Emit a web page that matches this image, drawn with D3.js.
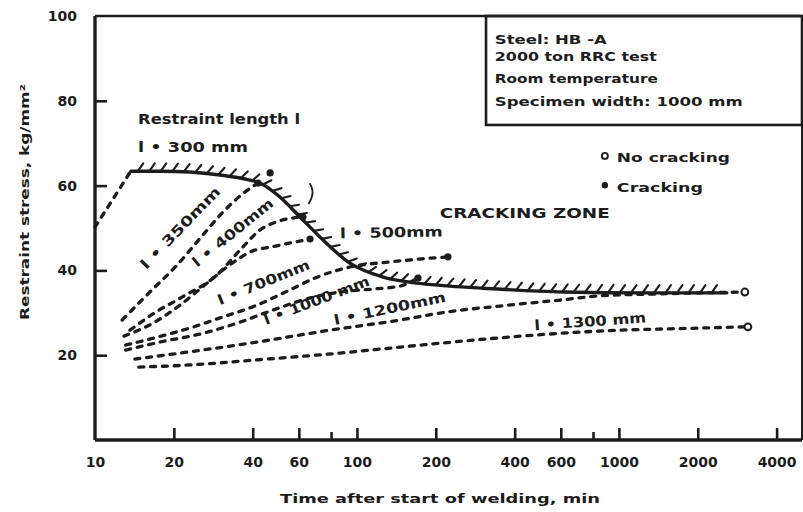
<!DOCTYPE html>
<html>
<head>
<meta charset="utf-8">
<script src="https://cdn.jsdelivr.net/npm/d3@7"></script>
<style>
  body { margin: 0; background: #fff; }
  svg text { font-family: "DejaVu Sans", "Liberation Sans", sans-serif; font-weight: bold; fill: #1c1c1c; }
</style>
</head>
<body>
<svg id="chart" width="803" height="512"></svg>
<script>
// ---- axis ticks ----
const timeTicks = [10, 20, 40, 60, 100, 200, 400, 600, 1000, 2000, 4000];
const timeMinorTicks = [80, 800];
const stressTicks = [20, 40, 60, 80, 100];

// ---- critical (cracking) boundary, time in min / stress in kg/mm2 ----
const critTime   = [13.7, 17.7, 23.0, 30.0, 39.0, 42.6, 50.8, 60.6, 72.2, 94.0, 126, 169, 226, 303, 611, 1313, 2584];
const critStress = [63.4, 63.4, 63.2, 62.5, 61.3, 60.6, 57.3, 52.6, 47.9, 41.7, 38.4, 37.0, 36.3, 35.8, 34.9, 34.7, 34.7];

// ---- restraint stress histories for each restraint length ----
const l300Time    = [10, 13.7];
const l300Stress  = [50.2, 63.4];
const l350Time    = [12.7, 16.2, 20.6, 25.2, 31.3, 37.4, 41.9];
const l350Stress  = [28.3, 34.9, 41.3, 47.6, 54.2, 58.5, 60.6];
const l400Time    = [13.6, 16.9, 21.5, 29.2, 35.8, 42.6, 50.8, 62.2];
const l400Stress  = [25.9, 30.0, 33.7, 38.9, 44.8, 49.5, 51.7, 52.6];
const l500Time    = [12.9, 16.9, 21.1, 26.3, 32.7, 39.0, 49.5, 66.2];
const l500Stress  = [24.5, 27.8, 31.8, 36.6, 41.3, 44.3, 45.8, 47.4];
const l700Time    = [13.1, 17.4, 23.0, 30.0, 41.5, 55.5, 70.4, 94.0, 133.7, 222.5];
const l700Stress  = [22.4, 24.3, 26.4, 28.8, 31.8, 35.4, 38.4, 40.8, 42.0, 43.2];
const l1000Time   = [13.1, 17.7, 25.2, 35.8, 46.6, 66.2, 86.1, 115, 146, 171];
const l1000Stress = [21.2, 23.1, 25.0, 27.8, 30.4, 33.5, 34.9, 35.6, 36.3, 38.2];
const l1200Time   = [14.2, 23.0, 41.5, 78.9, 146, 220.6, 351.5, 595.5, 846, 1313, 3026];
const l1200Stress = [19.1, 20.8, 23.1, 25.9, 28.3, 30.2, 31.6, 33.0, 34.0, 34.4, 34.9];
const l1300Time   = [14.7, 23.0, 41.5, 86.1, 146, 351.5, 846, 2038, 3108];
const l1300Stress = [17.2, 17.7, 18.9, 20.5, 21.9, 24.1, 25.7, 26.4, 26.7];

// ---- test results ----
const crackTime     = [41.9, 46.6, 62.2, 66.2, 171, 222.5];
const crackStress   = [60.6, 63.0, 52.6, 47.4, 38.2, 43.2];
const noCrackTime   = [3026, 3108];
const noCrackStress = [34.9, 26.7];

// small hand mark beside the boundary
const markTime   = [66.2, 68.0, 67.5, 65.5];
const markStress = [60.4, 59.0, 57.3, 55.8];

const ink = "#1c1c1c";
const svg = d3.select("#chart");

const x = d3.scaleLog().domain([10, 5000]).range([95, 802]);
const y = d3.scaleLinear().domain([0, 100]).range([440, 16]);

// frame
const g = svg.append("g");
g.append("line").attr("x1", x(10)).attr("x2", x(10)).attr("y1", y(100)).attr("y2", y(0))
  .attr("stroke", ink).attr("stroke-width", 3.4);
g.append("line").attr("x1", x(10)).attr("x2", x(5000)).attr("y1", y(0)).attr("y2", y(0))
  .attr("stroke", ink).attr("stroke-width", 3.4);
g.append("line").attr("x1", x(10)).attr("x2", x(5000)).attr("y1", y(100)).attr("y2", y(100))
  .attr("stroke", ink).attr("stroke-width", 2.4);
g.append("line").attr("x1", x(5000)).attr("x2", x(5000)).attr("y1", y(100)).attr("y2", y(0))
  .attr("stroke", ink).attr("stroke-width", 2);

// x axis: ticks point into the plot
const xAxis = d3.axisBottom(x).tickValues(timeTicks).tickSize(-12).tickPadding(17)
  .tickFormat(d3.format("d"));
const gx = svg.append("g").attr("transform", `translate(0,${y(0)})`).call(xAxis);
gx.select(".domain").remove();
gx.selectAll(".tick line").attr("stroke", ink).attr("stroke-width", 2.6)
  .filter(d => d === 10).remove();
gx.selectAll(".tick text").attr("font-size", 14).attr("fill", ink);
svg.append("g").selectAll("line").data(timeMinorTicks).join("line")
  .attr("x1", d => x(d)).attr("x2", d => x(d))
  .attr("y1", y(0)).attr("y2", y(0) - 8)
  .attr("stroke", ink).attr("stroke-width", 2.6);

// y axis
const yAxis = d3.axisLeft(y).tickValues(stressTicks).tickSize(-12).tickPadding(18)
  .tickFormat(d3.format("d"));
const gy = svg.append("g").attr("transform", `translate(${x(10)},0)`).call(yAxis);
gy.select(".domain").remove();
gy.selectAll(".tick line").attr("stroke", ink).attr("stroke-width", 2.6)
  .filter(d => d === 100).remove();
gy.selectAll(".tick text").attr("font-size", 14).attr("fill", ink);

// axis titles
svg.append("text").attr("x", 280).attr("y", 503).attr("font-size", 13)
  .attr("textLength", 320).attr("lengthAdjust", "spacingAndGlyphs")
  .text("Time after start of welding,   min");
svg.append("text").attr("transform", "translate(29,320) rotate(-90)").attr("font-size", 12)
  .attr("textLength", 236).attr("lengthAdjust", "spacingAndGlyphs")
  .text("Restraint stress,  kg/mm²");

// line generator
const line = d3.line().x(d => x(d[0])).y(d => y(d[1])).curve(d3.curveMonotoneX);

const dashed = [
  [l300Time, l300Stress], [l350Time, l350Stress], [l400Time, l400Stress],
  [l500Time, l500Stress], [l700Time, l700Stress], [l1000Time, l1000Stress],
  [l1200Time, l1200Stress], [l1300Time, l1300Stress]
];
svg.append("g").selectAll("path").data(dashed).join("path")
  .attr("d", d => line(d3.zip(d[0], d[1])))
  .attr("fill", "none").attr("stroke", ink).attr("stroke-width", 3.3)
  .attr("stroke-linecap", "round").attr("stroke-dasharray", "5,6.8");

// critical boundary with hatching on the cracking side
const crit = svg.append("path")
  .attr("d", line(d3.zip(critTime, critStress)))
  .attr("fill", "none").attr("stroke", ink).attr("stroke-width", 3.4)
  .attr("stroke-linecap", "round");
const node = crit.node();
const total = node.getTotalLength();
const hatches = [];
const rot = 35 * Math.PI / 180;
for (let s = 7; s < total - 4; s += 11.5) {
  const p = node.getPointAtLength(s);
  const a = node.getPointAtLength(Math.max(0, s - 2));
  const b = node.getPointAtLength(Math.min(total, s + 2));
  let tx = b.x - a.x, ty = b.y - a.y;
  const len = Math.hypot(tx, ty) || 1;
  tx /= len; ty /= len;
  const nx = ty, ny = -tx;                  // upward normal
  const dx = nx * Math.cos(rot) - ny * Math.sin(rot);
  const dy = nx * Math.sin(rot) + ny * Math.cos(rot);
  hatches.push([p.x, p.y, p.x + dx * 9.5, p.y + dy * 9.5]);
}
svg.append("g").selectAll("line").data(hatches).join("line")
  .attr("x1", d => d[0]).attr("y1", d => d[1]).attr("x2", d => d[2]).attr("y2", d => d[3])
  .attr("stroke", ink).attr("stroke-width", 2.1).attr("stroke-linecap", "round");

svg.append("path")
  .attr("d", d3.line().x(d => x(d[0])).y(d => y(d[1])).curve(d3.curveBasis)(d3.zip(markTime, markStress)))
  .attr("fill", "none").attr("stroke", ink).attr("stroke-width", 1.8).attr("stroke-linecap", "round");

// results
svg.append("g").selectAll("circle").data(d3.zip(crackTime, crackStress)).join("circle")
  .attr("cx", d => x(d[0])).attr("cy", d => y(d[1])).attr("r", 3.6).attr("fill", ink);
svg.append("g").selectAll("circle").data(d3.zip(noCrackTime, noCrackStress)).join("circle")
  .attr("cx", d => x(d[0])).attr("cy", d => y(d[1])).attr("r", 3.4)
  .attr("fill", "#fff").attr("stroke", ink).attr("stroke-width", 2);

// restraint length labels (anchor time, anchor stress, angle, length)
const lengthLabels = [
  ["Restraint length l", 14.6, 74.5, 0, 162],
  ["l • 300 mm", 14.6, 67.9, 0, 110],
  ["l • 350mm", 15.7, 40.1, -46, 108],
  ["l • 400mm", 24.5, 40.6, -39, 100],
  ["l • 500mm", 86.1, 47.6, -1, 103],
  ["l • 700mm", 30.0, 31.8, -22, 98],
  ["l • 1000 mm", 45.0, 27.1, -21, 112],
  ["l • 1200mm", 82.4, 27.1, -12, 114],
  ["l • 1300 mm", 477, 25.9, -4, 112]
];
svg.append("g").selectAll("text").data(lengthLabels).join("text")
  .attr("transform", d => `translate(${x(d[1])},${y(d[2])}) rotate(${d[3]})`)
  .attr("font-size", 14).attr("textLength", d => d[4]).attr("lengthAdjust", "spacingAndGlyphs")
  .text(d => d[0]);

svg.append("text").attr("x", x(207)).attr("y", y(52.4)).attr("font-size", 14)
  .attr("textLength", 170).attr("lengthAdjust", "spacingAndGlyphs").text("CRACKING  ZONE");

// legend
svg.append("circle").attr("cx", x(884)).attr("cy", y(67.0)).attr("r", 3)
  .attr("fill", "#fff").attr("stroke", ink).attr("stroke-width", 1.9);
svg.append("text").attr("x", x(884) + 12).attr("y", y(65.6)).attr("font-size", 13)
  .attr("textLength", 113).attr("lengthAdjust", "spacingAndGlyphs").text("No cracking");
svg.append("circle").attr("cx", x(884)).attr("cy", y(60.1)).attr("r", 3.2)
  .attr("fill", ink);
svg.append("text").attr("x", x(884) + 12).attr("y", y(58.5)).attr("font-size", 13)
  .attr("textLength", 86).attr("lengthAdjust", "spacingAndGlyphs").text("Cracking");

// test condition box
svg.append("rect").attr("x", x(311)).attr("y", y(100)).attr("width", x(5000) - x(311))
  .attr("height", y(74.3) - y(100)).attr("fill", "none").attr("stroke", ink).attr("stroke-width", 2.6);
const boxLines = [
  ["Steel: HB -A", 93.4, 112],
  ["2000 ton RRC test", 89.4, 162],
  ["Room temperature", 84.2, 163],
  ["Specimen width:  1000 mm", 78.8, 248]
];
svg.append("g").selectAll("text").data(boxLines).join("text")
  .attr("x", x(336)).attr("y", d => y(d[1])).attr("font-size", 12.5)
  .attr("textLength", d => d[2]).attr("lengthAdjust", "spacingAndGlyphs")
  .text(d => d[0]);
</script>
</body>
</html>
